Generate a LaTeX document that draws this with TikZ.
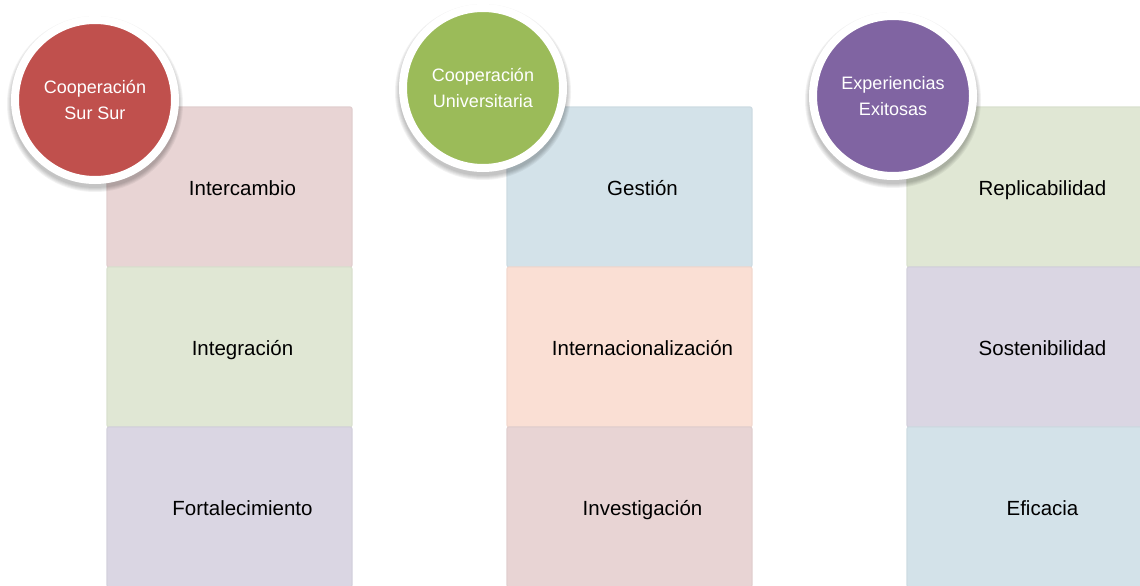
\documentclass[tikz,border=0pt]{standalone}
\usepackage{fontspec}
\setmainfont{Liberation Sans}
\definecolor{cred}{HTML}{C0504D}
\definecolor{cgreen}{HTML}{9BBB59}
\definecolor{cpurple}{HTML}{8064A2}
\definecolor{tpink}{RGB}{232,212,212}
\definecolor{tgreen}{RGB}{224,231,212}
\definecolor{tpurple}{RGB}{218,214,227}
\definecolor{tblue}{RGB}{211,226,233}
\definecolor{tpeach}{RGB}{250,223,212}
\begin{document}
\begin{tikzpicture}[x=1pt,y=-1pt,
  cell/.style={rectangle, rounded corners=2pt, minimum width=245pt, minimum height=160pt,
    inner sep=0pt, fill=#1, draw=#1!97!black, line width=1.2pt},
  lbl/.style={inner sep=0pt, anchor=base, font=\fontsize{20.5}{24}\selectfont, text=black},
  bubble/.style={circle, minimum size=160pt, inner sep=0pt, fill=#1, draw=white, line width=8pt,
    text=white, align=center, font=\fontsize{18}{26}\selectfont},
  shade1/.style={circle, inner sep=0pt, fill=black, fill opacity=0.05, draw=none}
]
\useasboundingbox (0,0) rectangle (1140,586);
\clip (0,0) rectangle (1140,586);
% column 1
\node[cell=tpink]   (a1) at (229.5,187) {};
\node[cell=tgreen]  (a2) at (229.5,347) {};
\node[cell=tpurple] (a3) at (229.5,507) {};
\node[lbl] (ta1) at (242.5,195.5) {Intercambio};
\node[lbl] (ta2) at (242.5,355.5) {Integración};
\node[lbl] (ta3) at (242.5,515.5) {Fortalecimiento};
% column 2
\node[cell=tblue]   (b1) at (629.5,187) {};
\node[cell=tpeach]  (b2) at (629.5,347) {};
\node[cell=tpink]   (b3) at (629.5,507) {};
\node[lbl] (tb1) at (642.5,195.5) {Gestión};
\node[lbl] (tb2) at (642.5,355.5) {Internacionalización};
\node[lbl] (tb3) at (642.5,515.5) {Investigación};
% column 3
\node[cell=tgreen]  (c1) at (1029.5,187) {};
\node[cell=tpurple] (c2) at (1029.5,347) {};
\node[cell=tblue]   (c3) at (1029.5,507) {};
\node[lbl] (tc1) at (1042.5,195.5) {Replicabilidad};
\node[lbl] (tc2) at (1042.5,355.5) {Sostenibilidad};
\node[lbl] (tc3) at (1042.5,515.5) {Eficacia};
% soft shadows under the circles
\foreach \cx/\cy/\nm in {95/100/s1, 483/88/s2, 893/96/s3} {
  \foreach \r/\k in {176/a, 174/b, 172/c, 170/d, 168/e} {
    \node[shade1, minimum size=\r pt] (\nm\k) at (\cx,\cy+4) {};
  }
}
% circles
\node[bubble=cred]    (k1) at (95,100) {Cooperación\\Sur Sur};
\node[bubble=cgreen]  (k2) at (483,88) {Cooperación\\Universitaria};
\node[bubble=cpurple] (k3) at (893,96) {Experiencias\\Exitosas};
\end{tikzpicture}
\end{document}
